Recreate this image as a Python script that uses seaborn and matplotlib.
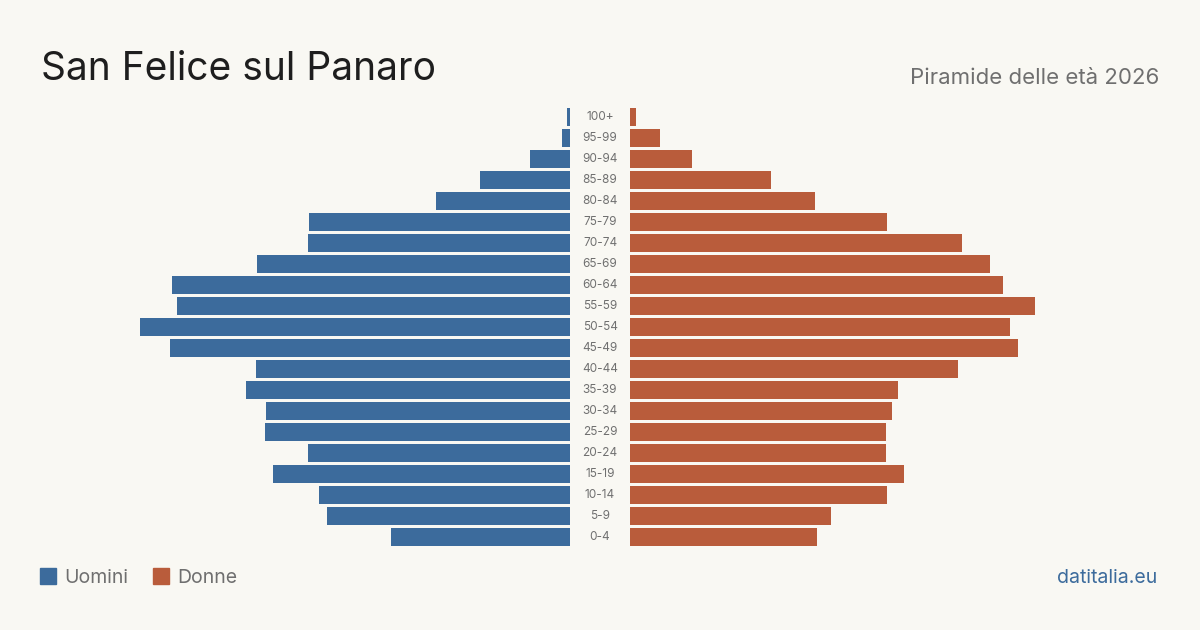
import pandas as pd
import matplotlib.pyplot as plt
import matplotlib.transforms as mtransforms
from matplotlib.patches import Rectangle
import seaborn as sns

# Fasce d'età (dall'alto verso il basso)
ETA = ["100+", "95-99", "90-94", "85-89", "80-84", "75-79", "70-74", "65-69",
       "60-64", "55-59", "50-54", "45-49", "40-44", "35-39", "30-34", "25-29",
       "20-24", "15-19", "10-14", "5-9", "0-4"]

# Residenti stimati per fascia
UOMINI = [3, 8, 40, 90, 134, 261, 262, 313, 398, 393, 430, 400, 314, 324,
          304, 305, 262, 297, 251, 243, 179]
DONNE = [6, 30, 62, 141, 185, 257, 332, 360, 373, 405, 380, 388, 328, 268,
         262, 256, 256, 274, 257, 201, 187]

BLU = "#3c6b9c"
ROSSO = "#b95c3b"
SFONDO = "#f9f8f3"
GRIGIO = "#6f6f6f"
MAX_X = 530

sns.set_theme(style="white")
plt.rcParams["font.family"] = ["Inter", "DejaVu Sans"]

df = pd.DataFrame({"eta": ETA, "uomini": UOMINI, "donne": DONNE})

fig = plt.figure(figsize=(12, 6.3), dpi=100, facecolor=SFONDO)
bottom = (630 - 547.5) / 630
ax_u = fig.add_axes([40 / 1200, bottom, 530 / 1200, 441 / 630])
ax_d = fig.add_axes([630 / 1200, bottom, 530 / 1200, 441 / 630])

sns.barplot(data=df, y="eta", x="uomini", order=ETA, color=BLU, width=0.82,
            saturation=1, linewidth=0, ax=ax_u)
sns.barplot(data=df, y="eta", x="donne", order=ETA, color=ROSSO, width=0.82,
            saturation=1, linewidth=0, ax=ax_d)

ax_u.set_xlim(MAX_X, 0)
ax_d.set_xlim(0, MAX_X)
for ax in (ax_u, ax_d):
    ax.set_facecolor(SFONDO)
    ax.set_xlabel("")
    ax.set_ylabel("")
    ax.set_xticks([])
    ax.set_yticks([])
    sns.despine(ax=ax, left=True, bottom=True)

# Etichette delle fasce al centro
trans = mtransforms.blended_transform_factory(fig.transFigure, ax_u.transData)
for i, eta in enumerate(ETA):
    fig.text(600 / 1200, i, eta, transform=trans, ha="center", va="center",
             fontsize=8.5, color="#707070")

fig.text(41 / 1200, 1 - 80 / 630, "San Felice sul Panaro", fontsize=28,
         color="#1e1e1e", ha="left", va="baseline")
fig.text(1159 / 1200, 1 - 84 / 630, "Piramide delle età 2026", fontsize=16,
         color=GRIGIO, ha="right", va="baseline")

# Legenda
for x0, col, lab in [(40, BLU, "Uomini"), (153, ROSSO, "Donne")]:
    fig.patches.append(Rectangle((x0 / 1200, 1 - 584 / 630), 16 / 1200, 16 / 630,
                                 transform=fig.transFigure, color=col))
    fig.text((x0 + 24) / 1200, 1 - 583 / 630, lab, fontsize=14, color=GRIGIO,
             ha="left", va="baseline")

fig.text(1157 / 1200, 1 - 583 / 630, "datitalia.eu", fontsize=14, color=BLU,
         ha="right", va="baseline")

fig.savefig("out.png", dpi=100, facecolor=SFONDO)
